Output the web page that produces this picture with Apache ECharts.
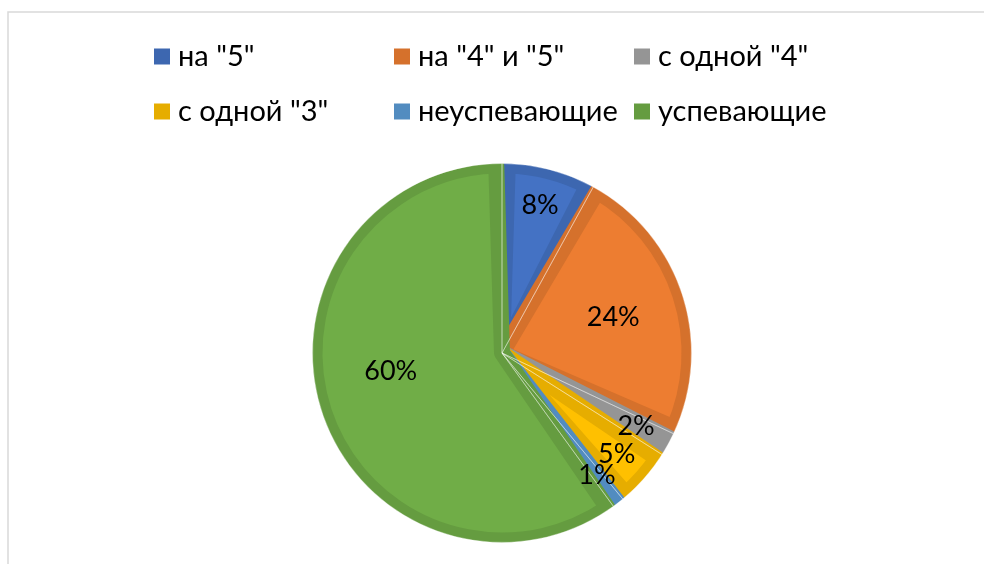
<!DOCTYPE html>
<html>
<head>
<meta charset="utf-8">
<script src="https://cdn.jsdelivr.net/npm/echarts@6/dist/echarts.min.js"></script>
<style>
html,body{margin:0;padding:0;background:#fff;}
#chart{width:984px;height:564px;}
</style>
</head>
<body>
<div id="chart"></div>
<script>
const categories = ['на "5"', 'на "4" и "5"', 'с одной "4"', 'с одной "3"', 'неуспевающие', 'успевающие'];
const values = [8, 24, 2, 5, 1, 60];
const fillColors = ['#4472C4', '#ED7D31', '#A5A5A5', '#FFC000', '#5B9BD5', '#70AD47'];
const edgeColors = ['#3D67B0', '#D5712C', '#959595', '#E6AD00', '#528CC0', '#659C40'];
// which label ring each slice's percentage is drawn on
const labelRing = ['outer', 'inner', 'outer', 'outer', 'thin', 'inner'];

const FONT = 'Lato, "Noto Sans", sans-serif';
const CENTER = [502, 353];
const R = 189.5;

function pieData(styleFn) {
  return categories.map((name, i) => ({ name: name, value: values[i], itemStyle: styleFn(i) }));
}

const chart = echarts.init(document.getElementById('chart'), null, { renderer: 'canvas' });
const labelBase = {
  show: true, position: 'inside', color: '#000', fontFamily: FONT, fontSize: 27
};
function labelSeries(radius, ring) {
  return {
    type: 'pie', center: CENTER, radius: radius, startAngle: 90, clockwise: true, silent: true,
    avoidLabelOverlap: false,
    labelLayout: { hideOverlap: false },
    labelLine: { show: false },
    label: Object.assign({}, labelBase, { formatter: p => labelRing[p.dataIndex] === ring ? p.value + '%' : '' }),
    data: pieData(i => ({ color: 'rgba(0,0,0,0)', borderWidth: 0 }))
  };
}
const innerSeries = labelSeries([48, 180], 'inner');
innerSeries.data[5].label = { offset: [0, -18] };

chart.setOption({
  animation: false,
  backgroundColor: '#fff',
  graphic: [{
    type: 'rect', silent: true,
    shape: { x: 8, y: 12, width: 1100, height: 700 },
    style: { fill: 'none', stroke: '#d9d9d9', lineWidth: 1.5 }
  }],
  legend: {
    left: 154, top: 37, width: 760, padding: 0,
    itemWidth: 16, itemHeight: 16, itemGap: 16, icon: 'rect',
    selectedMode: false,
    textStyle: { fontFamily: FONT, fontSize: 29, color: '#000', width: 200, lineHeight: 39, padding: [0, 0, 0, 3] },
    data: categories.map((n, i) => ({ name: n, itemStyle: { color: edgeColors[i] } }))
  },
  series: [
    {
      type: 'pie', center: CENTER, radius: R, startAngle: 90, clockwise: true, silent: true,
      label: { show: false }, labelLine: { show: false },
      data: pieData(i => ({ color: edgeColors[i] }))
    },
    {
      type: 'pie', center: CENTER, radius: [0, R - 2], startAngle: 90, clockwise: true, silent: true,
      padAngle: 3.5,
      label: { show: false }, labelLine: { show: false },
      data: pieData(i => ({ color: fillColors[i], borderColor: edgeColors[i], borderWidth: 16, borderJoin: 'round' }))
    },
    {
      type: 'pie', center: CENTER, radius: R, startAngle: 90, clockwise: true, silent: true,
      label: { show: false }, labelLine: { show: false },
      data: pieData(i => ({ color: 'rgba(0,0,0,0)', borderColor: 'rgba(255,255,255,0.35)', borderWidth: 1 }))
    },
    {
      // white cover ring trimming border overflow beyond the pie edge
      type: 'pie', center: CENTER, radius: [R, R + 10], silent: true,
      label: { show: false }, labelLine: { show: false },
      data: [{ name: '', value: 1, itemStyle: { color: '#fff' } }]
    },
    labelSeries([120, 180], 'outer'),
    labelSeries([124, 180], 'thin'),
    innerSeries
  ]
});
</script>
</body>
</html>
